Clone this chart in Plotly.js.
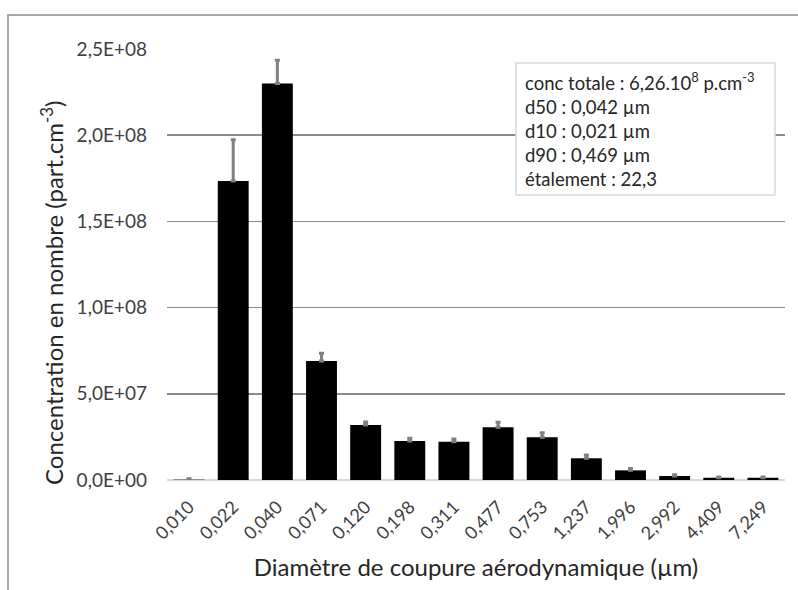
<!DOCTYPE html>
<html>
<head>
<meta charset="utf-8">
<script src="https://cdn.plot.ly/plotly-3.0.1.min.js"></script>
<style>
html,body{margin:0;padding:0;background:#fff;}
#chart{width:798px;height:590px;}
</style>
</head>
<body>
<div id="chart"></div>
<script>
// Data
const categories = ['0,010','0,022','0,040','0,071','0,120','0,198','0,311','0,477','0,753','1,237','1,996','2,992','4,409','7,249'];
const concentrations = [2e5, 1.734e8, 2.30e8, 6.9e7, 3.19e7, 2.26e7, 2.22e7, 3.06e7, 2.48e7, 1.26e7, 5.6e6, 2.3e6, 1.3e6, 1.3e6];
const errorsPlus = [5e5, 2.4e7, 1.35e7, 4.5e6, 1.7e6, 1.6e6, 1.6e6, 2.9e6, 2.6e6, 1.9e6, 1.0e6, 0.8e6, 0.4e6, 0.4e6];
const yTickVals = [0, 5e7, 1e8, 1.5e8, 2e8, 2.5e8];
const yTickText = ['0,0E+00', '5,0E+07', '1,0E+08', '1,5E+08', '2,0E+08', '2,5E+08'];
const yTitle = 'Concentration en nombre (part.cm<sup>-3</sup>)';
const xTitle = 'Diamètre de coupure aérodynamique (µm)';
const infoLines = [
  'conc totale : 6,26.10<sup>8</sup> p.cm<sup>-3</sup>',
  'd50 : 0,042 µm',
  'd10 : 0,021 µm',
  'd90 : 0,469 µm',
  'étalement : 22,3'
];

const FONT = 'Lato, "Open Sans", sans-serif';

const trace = {
  type: 'bar',
  x: categories,
  y: concentrations,
  marker: {color: '#000000', line: {width: 0}},
  error_y: {
    type: 'data',
    symmetric: false,
    array: errorsPlus,
    arrayminus: errorsPlus.map(() => 0),
    color: '#808080',
    thickness: 3,
    width: 2.5
  },
  hoverinfo: 'none'
};

const layout = {
  width: 798,
  height: 590,
  margin: {l: 167, r: 13, t: 49, b: 110},
  paper_bgcolor: '#ffffff',
  plot_bgcolor: '#ffffff',
  showlegend: false,
  bargap: 0.3,
  font: {family: FONT, color: '#404040'},
  xaxis: {
    type: 'category',
    tickangle: -45,
    ticks: '',
    ticklabelstandoff: 12,
    tickfont: {family: FONT, size: 18, color: '#404040'},
    showgrid: false,
    showline: false,
    zeroline: false,
    title: {text: xTitle, font: {family: FONT, size: 24, color: '#262626'}, standoff: 16},
    automargin: false
  },
  yaxis: {
    range: [0, 2.5e8],
    tickvals: yTickVals,
    ticktext: yTickText,
    ticks: '',
    ticklabelstandoff: 19,
    tickfont: {family: FONT, size: 19, color: '#404040'},
    showgrid: true,
    gridcolor: '#8a8a8a',
    gridwidth: 1.5,
    zeroline: true,
    zerolinecolor: '#d9d9d9',
    zerolinewidth: 1.5,
    showline: false,
    automargin: false
  },
  shapes: [
    {type: 'rect', xref: 'paper', yref: 'paper', x0: 0.5647, x1: 0.9838, y0: 0.6613, y1: 0.9675,
     fillcolor: '#ffffff', line: {color: '#d9d9d9', width: 1.5}, layer: 'above'},
    {type: 'rect', xref: 'paper', yref: 'paper', x0: -0.2573, x1: 1.03, y0: -0.3, y1: 1.0789,
     fillcolor: 'rgba(0,0,0,0)', line: {color: '#8a8a8a', width: 1.5}, layer: 'above'}
  ],
  annotations: [
    {xref: 'paper', yref: 'paper', x: -0.186, y: 0.434, xanchor: 'center', yanchor: 'middle',
     textangle: -90, showarrow: false, text: yTitle,
     font: {family: FONT, size: 24, color: '#262626'}},
    {xref: 'paper', yref: 'paper', x: 0.5760, y: 0.958, xanchor: 'left', yanchor: 'top',
     align: 'left', showarrow: false, text: infoLines.join('<br>'),
     font: {family: FONT, size: 18.5, color: '#262626'}}
  ]
};

Plotly.newPlot('chart', [trace], layout, {displayModeBar: false, staticPlot: true});
</script>
</body>
</html>
